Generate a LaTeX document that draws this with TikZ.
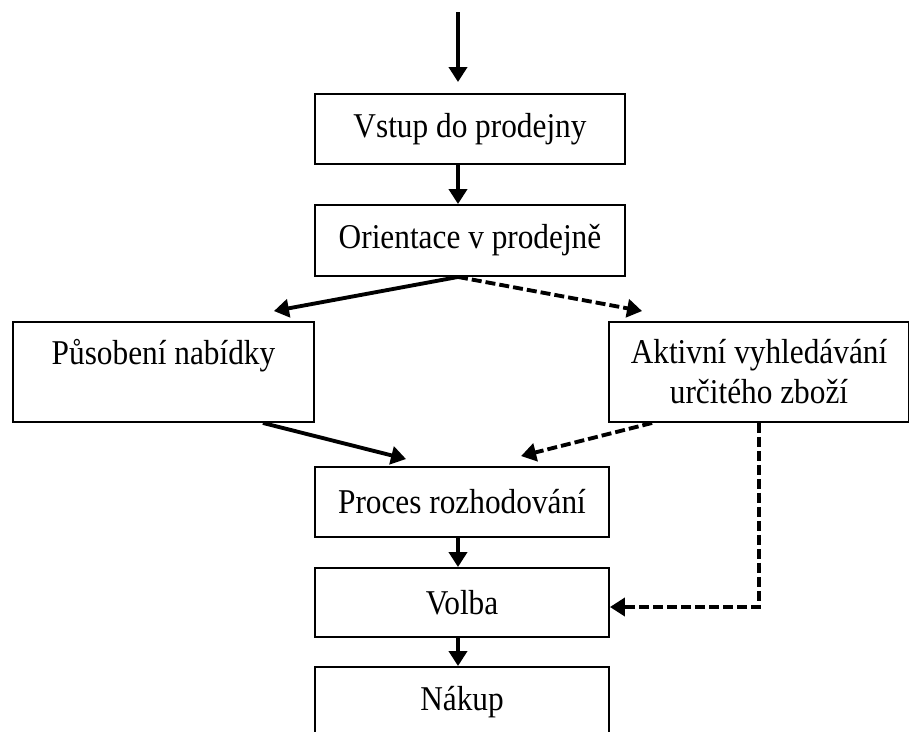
\documentclass[tikz,border=0pt]{standalone}
\usepackage{fontspec}
\setmainfont{Liberation Serif}[FakeStretch=0.9]
\usetikzlibrary{arrows.meta}
\usetikzlibrary{calc}

\tikzset{
    box/.style={draw, line width=1.1pt, inner sep=0pt, align=center,
        minimum width=5.88cm, minimum height=1.4cm,
        font=\fontsize{19.8pt}{22.7pt}\selectfont},
    flow/.style={-{Triangle[length=0.3cm, width=0.36cm]}, line width=2.2pt},
    optflow/.style={flow, dash pattern=on 0.2cm off 0.08cm}
}

\begin{document}
\begin{tikzpicture}[x=0.02cm, y=-0.02cm]
        % frame
        \clip (0,0) rectangle (909,731);
        % boxes
        \node[box, minimum width=6.2cm] (vstup) at (470,129) {Vstup do prodejny};
        \node[box, minimum width=6.2cm, minimum height=1.42cm] (orient) at (470,240.5) {Orientace v prodejně};
        \node[box, minimum width=6.02cm, minimum height=2cm] (pusob) at (163.5,372) {Působení nabídky\\~};
        \node[box, minimum width=6cm, minimum height=2cm] (aktiv) at (759,372) {Aktivní vyhledávání\\určitého zboží};
        \node[box] (proces) at (462,502) {Proces rozhodování};
        \node[box, minimum height=1.38cm] (volba) at (462,602.5) {Volba};
        \node[box] (nakup) at (462,702) {Nákup};
        % coordinates
        \coordinate (in) at (458,12);
        % arrows
        \draw[flow, shorten >=0.22cm] (in) -- (in |- vstup.north);
        \draw[flow] (vstup.south -| in) -- (orient.north -| in);
        \draw[flow] (orient.south -| in) -- ($(pusob.north east)+(-41,-10)$);
        \draw[optflow] (orient.south -| in) -- ($(aktiv.north west)+(34,-10)$);
        \draw[flow] ($(pusob.south east)+(-52,0)$) -- ($(proces.north west)+(92,-7)$);
        \draw[optflow] ($(aktiv.south west)+(44,0)$) -- ($(proces.north west)+(207,-10)$);
        \draw[optflow] (aktiv.south) |- ($(volba.east)+(0,4.5)$);
        \draw[flow] (proces.south -| in) -- (volba.north -| in);
        \draw[flow] (volba.south -| in) -- (nakup.north -| in);
\end{tikzpicture}
\end{document}
